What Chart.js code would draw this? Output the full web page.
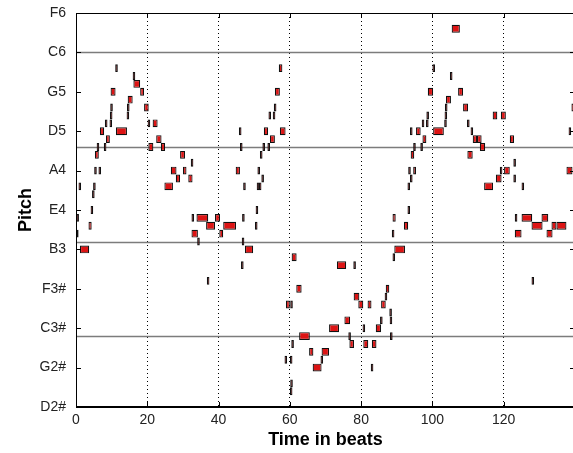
<!DOCTYPE html>
<html>
<head>
<meta charset="utf-8">
<script src="https://cdn.jsdelivr.net/npm/chart.js@4.4.1/dist/chart.umd.min.js"></script>
<style>
  html, body { margin: 0; padding: 0; background: #fff; overflow: hidden; }
  #wrap { width: 573px; height: 453px; overflow: hidden; }
</style>
</head>
<body>
<div id="wrap"><canvas id="roll" width="577" height="453"></canvas></div>
<script>
// pitch axis (midi numbers) and the note names shown on it
var pitchTicks = [39, 44, 49, 54, 59, 64, 69, 74, 79, 84, 89];
var pitchLabels = ['D2#', 'G2#', 'C3#', 'F3#', 'B3', 'E4', 'A4', 'D5', 'G5', 'C6', 'F6'];
var octaveLines = [48, 60, 72, 84];   // C3, C4, C5, C6
var beatTicks = [0, 20, 40, 60, 80, 100, 120];

// notes: [start beat, end beat, pitch]
var phraseA = [
    [0.0, 0.5, 61], [0.1, 0.7, 63], [0.7, 1.1, 67], [1.1, 3.7, 59], [3.5, 4.4, 62],
    [4.1, 4.5, 64], [4.5, 4.9, 66], [4.8, 5.2, 67], [5.1, 5.7, 69], [6.3, 6.9, 69],
    [5.3, 6.4, 71], [5.8, 6.3, 72], [6.7, 7.9, 74], [7.8, 8.3, 72], [8.1, 8.5, 75],
    [8.4, 9.5, 73], [9.4, 9.8, 75], [9.5, 9.9, 76], [9.6, 10.0, 77], [9.7, 11.1, 79],
    [11.0, 11.4, 82], [11.2, 14.3, 74], [14.2, 14.6, 76], [14.3, 14.7, 77], [14.5, 15.9, 78],
    [15.9, 16.3, 81], [16.1, 18.0, 80], [18.0, 19.1, 79], [19.1, 20.4, 77], [20.1, 20.5, 75],
    [20.3, 21.7, 72], [21.5, 22.9, 75], [22.5, 24.0, 73], [23.8, 25.0, 72]
];
var phraseB = [
    [24.8, 27.2, 67], [26.6, 28.2, 69], [28.0, 29.2, 68], [29.2, 30.6, 71], [30.0, 31.0, 69],
    [31.5, 32.7, 68], [32.2, 32.7, 70], [32.4, 32.9, 63], [32.4, 34.2, 61], [33.8, 37.1, 63],
    [34.0, 34.6, 60], [36.5, 39.0, 62], [36.7, 37.0, 55], [39.0, 40.4, 63], [40.2, 41.3, 61],
    [41.3, 44.9, 62], [44.8, 46.0, 69], [45.7, 46.3, 74], [46.0, 46.6, 72], [46.3, 46.8, 57],
    [46.5, 46.9, 60], [46.6, 47.1, 63], [46.9, 47.4, 67], [47.4, 49.7, 59]
];
var phraseC = [
    [50.2, 50.9, 62], [50.4, 50.7, 64], [50.7, 51.1, 67], [51.3, 51.7, 67], [50.9, 51.4, 69],
    [51.6, 52.3, 71], [52.0, 52.6, 68], [52.3, 52.8, 72], [52.7, 53.9, 74], [53.7, 54.2, 72],
    [54.0, 54.6, 76], [54.4, 55.8, 73], [55.2, 55.7, 76], [55.5, 55.9, 77], [55.8, 57.2, 79],
    [56.9, 57.9, 82], [57.2, 58.8, 74]
];
var phraseD = [
    [58.9, 60.0, 52], [58.5, 58.9, 45], [60.0, 60.4, 45], [60.1, 60.5, 52], [60.0, 60.3, 41],
    [60.1, 60.4, 42], [60.4, 60.8, 47], [60.5, 61.9, 58], [61.8, 63.3, 54], [62.6, 65.6, 48],
    [65.4, 66.6, 46], [66.4, 68.9, 44], [68.6, 69.1, 45], [68.9, 71.0, 46], [71.0, 73.8, 49],
    [73.2, 75.8, 57], [75.3, 76.9, 50], [76.4, 76.8, 48], [76.7, 78.0, 47], [77.8, 78.2, 57],
    [77.9, 79.5, 53], [79.2, 80.6, 52], [80.4, 80.9, 49], [80.6, 82.0, 47], [81.8, 82.9, 52],
    [82.7, 83.1, 44], [83.0, 84.3, 47], [84.1, 85.6, 49], [85.3, 85.8, 50], [85.6, 86.9, 52],
    [86.6, 87.0, 53], [86.9, 87.9, 54], [87.9, 88.3, 51], [88.0, 88.4, 50], [88.1, 88.5, 48],
    [88.6, 89.0, 61], [88.8, 89.2, 58], [88.8, 89.7, 63], [89.3, 92.3, 59]
];
var phraseE = [
    [92.0, 93.2, 62], [93.0, 93.3, 64], [93.0, 93.5, 67], [93.2, 93.9, 69], [93.7, 94.1, 68],
    [93.7, 94.2, 74], [93.9, 94.9, 71], [94.6, 95.4, 69], [94.6, 95.1, 72], [95.4, 96.7, 74],
    [96.6, 97.1, 72], [97.0, 97.4, 75], [97.2, 98.3, 73], [98.2, 98.6, 75], [98.3, 98.7, 76],
    [98.7, 100.2, 79], [100.0, 100.5, 82], [100.2, 103.2, 74], [103.3, 103.7, 75], [103.4, 103.8, 76],
    [103.5, 103.9, 77], [103.8, 105.2, 78], [104.9, 105.4, 81], [105.4, 107.7, 87], [107.2, 108.6, 79],
    [108.6, 110.0, 77], [109.7, 110.1, 75], [109.8, 111.3, 71], [110.7, 111.2, 74], [111.3, 112.5, 73],
    [112.5, 113.8, 73], [113.3, 114.8, 72]
];
var phraseF = [
    [114.5, 117.0, 67], [116.9, 118.2, 76], [117.8, 119.4, 68], [118.9, 119.6, 69], [119.2, 120.6, 76],
    [120.1, 121.7, 69], [121.7, 122.9, 73], [122.7, 123.1, 70], [122.7, 123.1, 68], [123.1, 123.5, 63],
    [123.1, 125.0, 61], [125.0, 125.4, 67], [125.0, 128.0, 63], [127.8, 128.2, 55], [127.8, 130.9, 62],
    [130.6, 132.5, 63], [132.0, 133.7, 61], [133.4, 134.8, 62], [134.8, 137.6, 62], [137.6, 139.3, 69],
    [138.2, 138.6, 74], [139.0, 140.0, 77]
];

var allNotes = phraseA.concat(phraseB, phraseC, phraseD, phraseE, phraseF);
var noteData = allNotes.map(function (n) {
    return { x: [n[0], n[1]], y: n[2] };
});

var fontFamily = "'Liberation Sans', Arial, sans-serif";

// octave lines under the notes, box and inward ticks on top
var rollFrame = {
    id: 'rollFrame',
    beforeDatasetsDraw: function (chart) {
        var ctx = chart.ctx, a = chart.chartArea, y = chart.scales.y;
        ctx.save();
        ctx.strokeStyle = '#7c7c7c';
        ctx.lineWidth = 1.3;
        octaveLines.forEach(function (p) {
            var py = Math.round(y.getPixelForValue(p)) + 0.5;
            ctx.beginPath();
            ctx.moveTo(a.left, py);
            ctx.lineTo(a.right, py);
            ctx.stroke();
        });
        ctx.restore();
    },
    afterDraw: function (chart) {
        var ctx = chart.ctx, a = chart.chartArea, x = chart.scales.x, y = chart.scales.y;
        var len = 5;
        ctx.save();
        ctx.strokeStyle = '#000';
        ctx.lineWidth = 1;
        ctx.strokeRect(a.left + 0.5, a.top + 0.5, a.right - a.left - 1, a.bottom - a.top - 1);
        ctx.beginPath();
        pitchTicks.forEach(function (p) {
            var py = Math.round(y.getPixelForValue(p)) + 0.5;
            ctx.moveTo(a.left, py); ctx.lineTo(a.left + len, py);
            ctx.moveTo(a.right, py); ctx.lineTo(a.right - len, py);
        });
        beatTicks.forEach(function (b) {
            var px = Math.round(x.getPixelForValue(b)) + 0.5;
            ctx.moveTo(px, a.bottom); ctx.lineTo(px, a.bottom - len);
            ctx.moveTo(px, a.top); ctx.lineTo(px, a.top + len);
        });
        ctx.stroke();
        ctx.restore();
    }
};

new Chart(document.getElementById('roll'), {
    type: 'bar',
    data: {
        datasets: [{
            label: 'notes',
            data: noteData,
            backgroundColor: '#dc1414',
            borderColor: '#111',
            borderWidth: 1.2,
            borderSkipped: false,
            inflateAmount: 0,
            minBarLength: 2.6,
            barPercentage: 1,
            categoryPercentage: 1
        }]
    },
    options: {
        indexAxis: 'y',
        responsive: false,
        animation: false,
        layout: { padding: { top: 13, right: 2, left: 0, bottom: 0 } },
        plugins: { legend: { display: false }, tooltip: { enabled: false } },
        scales: {
            x: {
                type: 'linear',
                min: 0,
                max: 140,
                afterBuildTicks: function (s) {
                    s.ticks = beatTicks.map(function (v) { return { value: v }; });
                },
                afterFit: function (s) {
                    s.height = 46;
                    s.paddingLeft = 0;
                    s.paddingRight = 0;
                },
                grid: { color: '#000', lineWidth: 1, drawTicks: false },
                border: { display: true, color: '#000', dash: [1, 3] },
                ticks: {
                    color: '#222', padding: 5, maxRotation: 0, autoSkip: false,
                    font: { family: fontFamily, size: 14 }
                },
                title: {
                    display: true, text: 'Time in beats', color: '#000',
                    font: { family: fontFamily, size: 18, weight: 'bold' },
                    padding: { top: 0, bottom: 2 }
                }
            },
            y: {
                type: 'linear',
                min: 39,
                max: 89,
                offset: false,
                afterBuildTicks: function (s) {
                    s.ticks = pitchTicks.map(function (v) { return { value: v }; });
                },
                afterFit: function (s) {
                    s.width = 76;
                    s.paddingTop = 0;
                    s.paddingBottom = 0;
                },
                grid: { display: false, drawTicks: false, offset: false },
                border: { display: true, color: '#000' },
                ticks: {
                    color: '#222', padding: 10, autoSkip: false,
                    font: { family: fontFamily, size: 14 },
                    callback: function (v, i) { return pitchLabels[i]; }
                },
                title: {
                    display: true, text: 'Pitch', color: '#000',
                    font: { family: fontFamily, size: 18, weight: 'bold' },
                    padding: { top: 15, bottom: 0 }
                }
            }
        }
    },
    plugins: [rollFrame]
});
</script>
</body>
</html>
